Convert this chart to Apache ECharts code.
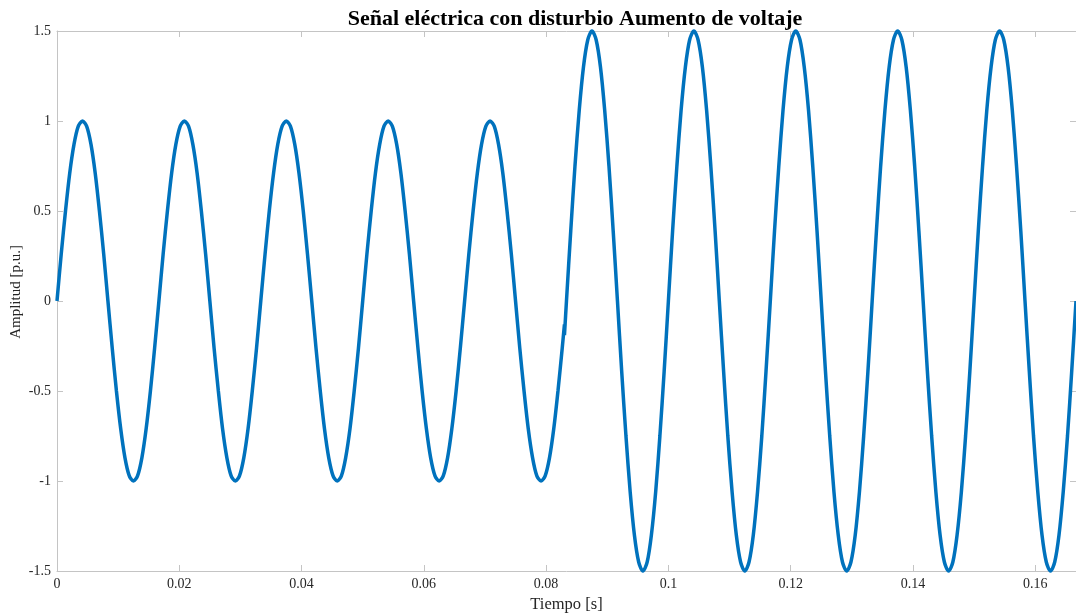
<!DOCTYPE html>
<html>
<head>
<meta charset="utf-8">
<script src="https://cdn.jsdelivr.net/npm/echarts@6/dist/echarts.min.js"></script>
<style>
html,body{margin:0;padding:0;background:#fff;}
#chart{width:1076px;height:616px;}
</style>
</head>
<body>
<div id="chart"></div>
<script>
const titleText = 'Señal eléctrica con disturbio Aumento de voltaje';
const xLabel = 'Tiempo [s]';
const yLabel = 'Amplitud [p.u.]';
const xTicks = [0, 0.02, 0.04, 0.06, 0.08, 0.1, 0.12, 0.14, 0.16];
const yTicks = [-1.5, -1, -0.5, 0, 0.5, 1, 1.5];

// Segment 1: normal voltage
const time1 = [
  0, 0.00069, 0.00139, 0.00208, 0.00278, 0.00347, 0.00417, 0.00486, 0.00556, 0.00625, 0.00694, 0.00764,
  0.00833, 0.00903, 0.00972, 0.01042, 0.01111, 0.01181, 0.0125, 0.01319, 0.01389, 0.01458, 0.01528, 0.01597,
  0.01667, 0.01736, 0.01806, 0.01875, 0.01944, 0.02014, 0.02083, 0.02153, 0.02222, 0.02292, 0.02361, 0.02431,
  0.025, 0.02569, 0.02639, 0.02708, 0.02778, 0.02847, 0.02917, 0.02986, 0.03056, 0.03125, 0.03194, 0.03264,
  0.03333, 0.03403, 0.03472, 0.03542, 0.03611, 0.03681, 0.0375, 0.03819, 0.03889, 0.03958, 0.04028, 0.04097,
  0.04167, 0.04236, 0.04306, 0.04375, 0.04444, 0.04514, 0.04583, 0.04653, 0.04722, 0.04792, 0.04861, 0.04931,
  0.05, 0.05069, 0.05139, 0.05208, 0.05278, 0.05347, 0.05417, 0.05486, 0.05556, 0.05625, 0.05694, 0.05764,
  0.05833, 0.05903, 0.05972, 0.06042, 0.06111, 0.06181, 0.0625, 0.06319, 0.06389, 0.06458, 0.06528, 0.06597,
  0.06667, 0.06736, 0.06806, 0.06875, 0.06944, 0.07014, 0.07083, 0.07153, 0.07222, 0.07292, 0.07361, 0.07431,
  0.075, 0.07569, 0.07639, 0.07708, 0.07778, 0.07847, 0.07917, 0.07986, 0.08056, 0.08125, 0.08194, 0.08264,
  0.0830
];
const value1 = [
  0, 0.26, 0.5, 0.71, 0.87, 0.97, 1, 0.97, 0.87, 0.71, 0.5, 0.26,
  0, -0.26, -0.5, -0.71, -0.87, -0.97, -1, -0.97, -0.87, -0.71, -0.5, -0.26,
  0, 0.26, 0.5, 0.71, 0.87, 0.97, 1, 0.97, 0.87, 0.71, 0.5, 0.26,
  0, -0.26, -0.5, -0.71, -0.87, -0.97, -1, -0.97, -0.87, -0.71, -0.5, -0.26,
  0, 0.26, 0.5, 0.71, 0.87, 0.97, 1, 0.97, 0.87, 0.71, 0.5, 0.26,
  0, -0.26, -0.5, -0.71, -0.87, -0.97, -1, -0.97, -0.87, -0.71, -0.5, -0.26,
  0, 0.26, 0.5, 0.71, 0.87, 0.97, 1, 0.97, 0.87, 0.71, 0.5, 0.26,
  0, -0.26, -0.5, -0.71, -0.87, -0.97, -1, -0.97, -0.87, -0.71, -0.5, -0.26,
  0, 0.26, 0.5, 0.71, 0.87, 0.97, 1, 0.97, 0.87, 0.71, 0.5, 0.26,
  0, -0.26, -0.5, -0.71, -0.87, -0.97, -1, -0.97, -0.87, -0.71, -0.5, -0.26,
  -0.13
];
// Segment 2: voltage swell
const time2 = [
  0.0830,
  0.08333, 0.08403, 0.08472, 0.08542, 0.08611, 0.08681, 0.0875, 0.08819, 0.08889, 0.08958, 0.09028, 0.09097,
  0.09167, 0.09236, 0.09306, 0.09375, 0.09444, 0.09514, 0.09583, 0.09653, 0.09722, 0.09792, 0.09861, 0.09931,
  0.1, 0.10069, 0.10139, 0.10208, 0.10278, 0.10347, 0.10417, 0.10486, 0.10556, 0.10625, 0.10694, 0.10764,
  0.10833, 0.10903, 0.10972, 0.11042, 0.11111, 0.11181, 0.1125, 0.11319, 0.11389, 0.11458, 0.11528, 0.11597,
  0.11667, 0.11736, 0.11806, 0.11875, 0.11944, 0.12014, 0.12083, 0.12153, 0.12222, 0.12292, 0.12361, 0.12431,
  0.125, 0.12569, 0.12639, 0.12708, 0.12778, 0.12847, 0.12917, 0.12986, 0.13056, 0.13125, 0.13194, 0.13264,
  0.13333, 0.13403, 0.13472, 0.13542, 0.13611, 0.13681, 0.1375, 0.13819, 0.13889, 0.13958, 0.14028, 0.14097,
  0.14167, 0.14236, 0.14306, 0.14375, 0.14444, 0.14514, 0.14583, 0.14653, 0.14722, 0.14792, 0.14861, 0.14931,
  0.15, 0.15069, 0.15139, 0.15208, 0.15278, 0.15347, 0.15417, 0.15486, 0.15556, 0.15625, 0.15694, 0.15764,
  0.15833, 0.15903, 0.15972, 0.16042, 0.16111, 0.16181, 0.1625, 0.16319, 0.16389, 0.16458, 0.16528, 0.16597,
  0.16667
];
const value2 = [
  -0.19,
  0, 0.39, 0.75, 1.06, 1.3, 1.45, 1.5, 1.45, 1.3, 1.06, 0.75, 0.39,
  0, -0.39, -0.75, -1.06, -1.3, -1.45, -1.5, -1.45, -1.3, -1.06, -0.75, -0.39,
  0, 0.39, 0.75, 1.06, 1.3, 1.45, 1.5, 1.45, 1.3, 1.06, 0.75, 0.39,
  0, -0.39, -0.75, -1.06, -1.3, -1.45, -1.5, -1.45, -1.3, -1.06, -0.75, -0.39,
  0, 0.39, 0.75, 1.06, 1.3, 1.45, 1.5, 1.45, 1.3, 1.06, 0.75, 0.39,
  0, -0.39, -0.75, -1.06, -1.3, -1.45, -1.5, -1.45, -1.3, -1.06, -0.75, -0.39,
  0, 0.39, 0.75, 1.06, 1.3, 1.45, 1.5, 1.45, 1.3, 1.06, 0.75, 0.39,
  0, -0.39, -0.75, -1.06, -1.3, -1.45, -1.5, -1.45, -1.3, -1.06, -0.75, -0.39,
  0, 0.39, 0.75, 1.06, 1.3, 1.45, 1.5, 1.45, 1.3, 1.06, 0.75, 0.39,
  0, -0.39, -0.75, -1.06, -1.3, -1.45, -1.5, -1.45, -1.3, -1.06, -0.75, -0.39,
  0
];

const font = "'Liberation Serif', 'DejaVu Serif', serif";
const lineColor = '#0072BD';
const axisGray = '#c4c4c4';
const textColor = '#262626';

const pairs = (t, v) => t.map((x, i) => [x, v[i]]);

const chart = echarts.init(document.getElementById('chart'), null, {renderer: 'canvas'});
const xMin = xTicks[0], xMax = 0.16667;
const yMin = yTicks[0], yMax = yTicks[yTicks.length - 1];

const baseX = {
  type: 'value', min: xMin, max: xMax, interval: 0.02,
  splitLine: {show: false},
  axisLine: {show: true, onZero: false, lineStyle: {color: axisGray, width: 1}},
  axisTick: {show: true, inside: true, length: 6, lineStyle: {color: axisGray}},
};
const baseY = {
  type: 'value', min: yMin, max: yMax, interval: 0.5,
  splitLine: {show: false},
  axisLine: {show: true, onZero: false, lineStyle: {color: axisGray, width: 1}},
  axisTick: {show: true, inside: true, length: 6, lineStyle: {color: axisGray}},
};

chart.setOption({
  animation: false,
  backgroundColor: '#ffffff',
  title: {
    text: titleText, left: 570, top: 3, textAlign: 'center',
    textStyle: {fontFamily: font, fontWeight: 'bold', fontSize: 22, color: '#000'}
  },
  grid: {left: 57, right: 0, top: 31, bottom: 45, containLabel: false, outerBoundsMode: 'none'},
  xAxis: [
    Object.assign({}, baseX, {
      position: 'bottom',
      name: xLabel, nameLocation: 'middle', nameGap: 25,
      nameTextStyle: {fontFamily: font, fontSize: 16.5, color: textColor},
      axisLabel: {
        fontFamily: font, fontSize: 14, color: textColor, margin: 6,
        showMaxLabel: false,
        formatter: v => (xTicks.some(t => Math.abs(t - v) < 1e-9) ? String(+v.toFixed(2)) : '')
      }
    }),
    Object.assign({}, baseX, {position: 'top', axisLabel: {show: false}})
  ],
  yAxis: [
    Object.assign({}, baseY, {
      position: 'left',
      name: yLabel, nameLocation: 'middle', nameGap: 33, nameMoveOverlap: false,
      nameTextStyle: {fontFamily: font, fontSize: 15, color: textColor, padding: [0, 0, 0, 18]},
      axisLabel: {
        fontFamily: font, fontSize: 14, color: textColor, margin: 6,
        formatter: v => String(+v.toFixed(1))
      }
    }),
    Object.assign({}, baseY, {position: 'right', axisLabel: {show: false}})
  ],
  series: [
    {
      type: 'line', xAxisIndex: 0, yAxisIndex: 0,
      data: pairs(time1, value1), smooth: 0.3, showSymbol: false,
      lineStyle: {color: lineColor, width: 3.5}, clip: false
    },
    {
      type: 'line', xAxisIndex: 0, yAxisIndex: 0,
      data: pairs(time2, value2), smooth: 0.3, showSymbol: false,
      lineStyle: {color: lineColor, width: 3.5}, clip: false
    }
  ]
});
</script>
</body>
</html>
